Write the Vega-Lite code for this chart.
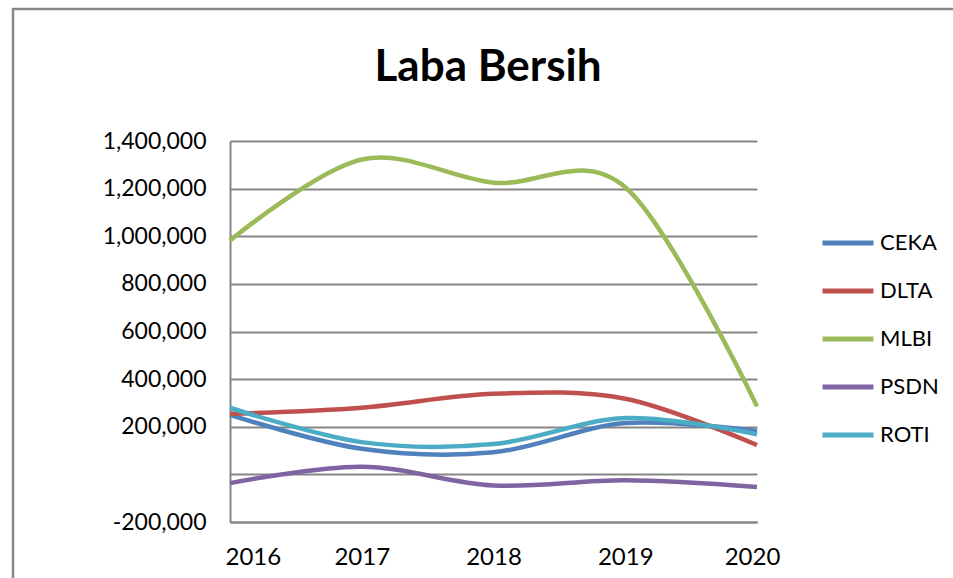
{
  "$schema": "https://vega.github.io/schema/vega-lite/v6.json",
  "width": 950,
  "height": 600,
  "autosize": "none",
  "padding": {"left": 13, "top": 9, "right": 0, "bottom": 0},
  "background": "white",
  "title": {"text": "Laba Bersih", "font": "Lato", "fontSize": 44, "fontWeight": "bold", "color": "black", "anchor": "middle", "offset": -116, "baseline": "alphabetic"},
  "data": {"values": [
    {"tahun": 2016, "emiten": "CEKA", "laba": 249697},
    {"tahun": 2017, "emiten": "CEKA", "laba": 107421},
    {"tahun": 2018, "emiten": "CEKA", "laba": 92650},
    {"tahun": 2019, "emiten": "CEKA", "laba": 215459},
    {"tahun": 2020, "emiten": "CEKA", "laba": 181812},
    {"tahun": 2016, "emiten": "DLTA", "laba": 254509},
    {"tahun": 2017, "emiten": "DLTA", "laba": 279773},
    {"tahun": 2018, "emiten": "DLTA", "laba": 338130},
    {"tahun": 2019, "emiten": "DLTA", "laba": 317815},
    {"tahun": 2020, "emiten": "DLTA", "laba": 123466},
    {"tahun": 2016, "emiten": "MLBI", "laba": 982129},
    {"tahun": 2017, "emiten": "MLBI", "laba": 1322067},
    {"tahun": 2018, "emiten": "MLBI", "laba": 1224807},
    {"tahun": 2019, "emiten": "MLBI", "laba": 1206059},
    {"tahun": 2020, "emiten": "MLBI", "laba": 285617},
    {"tahun": 2016, "emiten": "PSDN", "laba": -36662},
    {"tahun": 2017, "emiten": "PSDN", "laba": 32229},
    {"tahun": 2018, "emiten": "PSDN", "laba": -46599},
    {"tahun": 2019, "emiten": "PSDN", "laba": -25000},
    {"tahun": 2020, "emiten": "PSDN", "laba": -53000},
    {"tahun": 2016, "emiten": "ROTI", "laba": 279777},
    {"tahun": 2017, "emiten": "ROTI", "laba": 135364},
    {"tahun": 2018, "emiten": "ROTI", "laba": 127171},
    {"tahun": 2019, "emiten": "ROTI", "laba": 236518},
    {"tahun": 2020, "emiten": "ROTI", "laba": 168610}
  ]},
  "mark": {"type": "line", "interpolate": "cardinal", "strokeWidth": 4.5, "strokeCap": "butt"},
  "encoding": {
    "x": {
      "field": "tahun", "type": "quantitative",
      "scale": {"domain": [2016, 2020], "range": [217, 744], "nice": false, "zero": false},
      "axis": {
        "title": null, "values": [2016, 2017, 2018, 2019, 2020], "format": "d",
        "offset": -87, "grid": false, "ticks": false, "tickSize": 0,
        "labelPadding": 23, "labelBaseline": "top", "labelFontSize": 24,
        "labelAlign": {"condition": {"test": "datum.value == 2016", "value": "left"}, "value": "center"},
        "labelOffset": {"condition": {"test": "datum.value == 2016 || datum.value == 2020", "value": -5}, "value": 0},
        "labelFlush": false
      }
    },
    "y": {
      "field": "laba", "type": "quantitative",
      "scale": {"domain": [-200000, 1400000], "range": [513, 132], "nice": false, "zero": false},
      "axis": {
        "title": null,
        "values": [-200000, 0, 200000, 400000, 600000, 800000, 1000000, 1200000, 1400000],
        "labelExpr": "datum.value == 0 ? '' : (datum.value < 0 ? '-' + format(-datum.value, ',') : format(datum.value, ','))",
        "offset": -217, "grid": true, "ticks": false, "tickSize": 0,
        "labelPadding": 24, "labelBaseline": "middle", "labelFontSize": 23
      }
    },
    "color": {
      "field": "emiten", "type": "nominal",
      "scale": {"domain": ["CEKA", "DLTA", "MLBI", "PSDN", "ROTI"], "range": ["#4F81BD", "#C0504D", "#9BBB59", "#8064A2", "#4BACC6"]},
      "legend": {
        "title": null, "orient": "none", "legendX": 807, "legendY": 206,
        "symbolType": "stroke", "symbolSize": 2601, "symbolStrokeWidth": 5,
        "labelFont": "Lato", "labelFontSize": 22, "labelColor": "black",
        "labelOffset": 4, "rowPadding": 9, "padding": 0
      }
    }
  },
  "config": {
    "view": {"stroke": "#888888", "strokeWidth": 2.5},
    "axis": {
      "domainColor": "#868686", "domainWidth": 2,
      "gridColor": "#868686", "gridWidth": 2, "gridOpacity": 1,
      "labelFont": "Lato", "labelFontSize": 22, "labelColor": "black"
    }
  }
}
